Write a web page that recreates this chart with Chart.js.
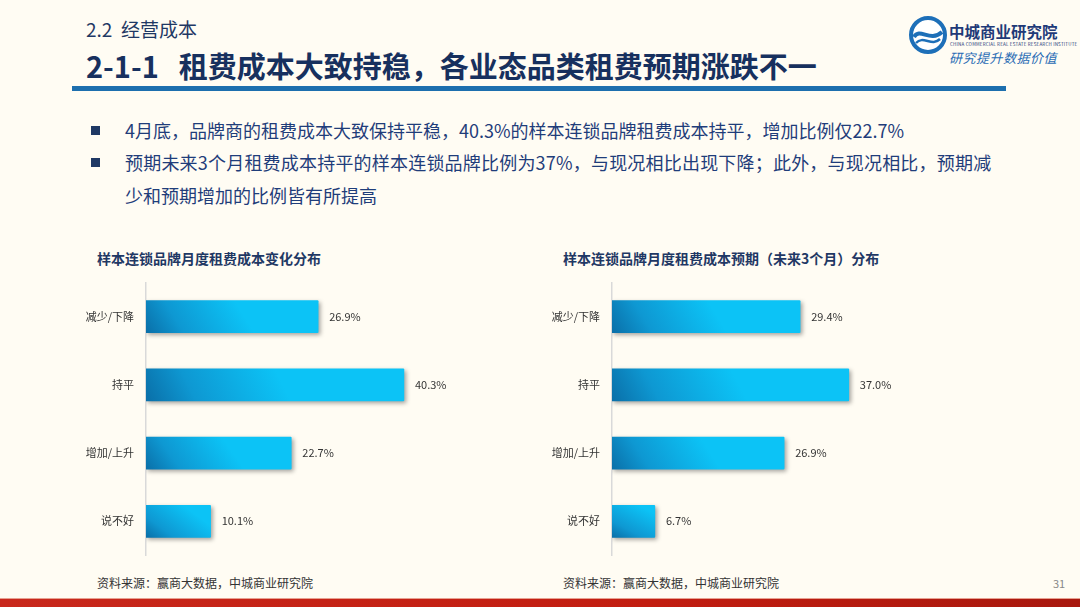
<!DOCTYPE html>
<html>
<head>
<meta charset="utf-8">
<script src="https://cdn.jsdelivr.net/npm/chart.js@4.4.1/dist/chart.umd.min.js"></script>
<style>
    html, body {
        margin: 0;
        padding: 0;
    }
    body {
        width: 1080px;
        height: 607px;
        position: relative;
        overflow: hidden;
        background: #fffcf3;
        font-family: "Noto Sans CJK SC", "Noto Sans", sans-serif;
    }
    .abs { position: absolute; white-space: nowrap; }
    .sub { left: 86px; top: 15px; font-size: 19px; color: #1f3864; }
    .title { left: 86px; top: 44px; font-size: 29px; font-weight: bold; color: #17305e; }
    .rule { left: 72px; top: 86px; width: 934px; height: 5px; background: #1d6fae; }
    .bullet { width: 9px; height: 9px; background: #1f3864; }
    .txt { font-size: 18px; color: #1f3d7a; }
    .ctitle { top: 248px; font-size: 14px; font-weight: bold; color: #1f3864; }
    .src { top: 574px; font-size: 12px; color: #333; }
    .page { left: 1053px; top: 575px; font-size: 11px; color: #888; }
    .redbar { left: 0; top: 598px; width: 1080px; height: 9px;
        background: linear-gradient(to right, #c8281c, #c21d10 60%, #a8180e); border-top: 1px solid #e8a090; }
    canvas { position: absolute; }
</style>
</head>
<body>
<div class="abs sub">2.2&nbsp; 经营成本</div>
<div class="abs title">2-1-1<span style="display:inline-block;width:20px;"></span>租费成本大致持稳，各业态品类租费预期涨跌不一</div>
<div class="abs rule"></div>

<!-- logo -->
<svg class="abs" style="left:908px;top:15px" width="40" height="40" viewBox="0 0 40 40">
    <circle cx="20" cy="20" r="17" fill="#fff" stroke="#1d6fb8" stroke-width="4"/>
    <path d="M6 22 C12 12, 22 28, 34 17" stroke="#1d6fb8" stroke-width="4" fill="none"/>
    <path d="M8 28 C15 20, 24 32, 32 24" stroke="#1d6fb8" stroke-width="2.5" fill="none"/>
</svg>
<div class="abs" style="left:949px;top:20px;font-size:15.5px;font-weight:bold;color:#1f3a78;">中城商业研究院</div>
<div class="abs" style="left:950px;top:41px;font-size:4.5px;color:#1f3a78;letter-spacing:0.2px;">CHINA COMMERCIAL REAL ESTATE RESEARCH INSTITUTE</div>
<div class="abs" style="left:949px;top:48px;font-size:13px;font-style:italic;color:#2a6cb5;letter-spacing:0.5px;">研究提升数据价值</div>

<!-- bullets -->
<div class="abs bullet" style="left:91px;top:126px;"></div>
<div class="abs txt" style="left:125px;top:117px;">4月底，品牌商的租费成本大致保持平稳，40.3%的样本连锁品牌租费成本持平，增加比例仅22.7%</div>
<div class="abs bullet" style="left:91px;top:158px;"></div>
<div class="abs txt" style="left:125px;top:149px;letter-spacing:0.2px;">预期未来3个月租费成本持平的样本连锁品牌比例为37%，与现况相比出现下降；此外，与现况相比，预期减</div>
<div class="abs txt" style="left:125px;top:182px;">少和预期增加的比例皆有所提高</div>

<div class="abs ctitle" style="left:97px;">样本连锁品牌月度租费成本变化分布</div>
<div class="abs ctitle" style="left:563px;">样本连锁品牌月度租费成本预期（未来3个月）分布</div>

<canvas id="leftChart" width="406" height="310" style="left:60px;top:264px;"></canvas>
<canvas id="rightChart" width="406" height="310" style="left:526px;top:264px;"></canvas>

<div class="abs src" style="left:97px;">资料来源：赢商大数据，中城商业研究院</div>
<div class="abs src" style="left:563px;">资料来源：赢商大数据，中城商业研究院</div>
<div class="abs page">31</div>
<div class="abs redbar"></div>

<script>
// 数据
const categories = ['减少/下降', '持平', '增加/上升', '说不好'];
const currentShares = [26.9, 40.3, 22.7, 10.1];   // 4月底现况
const expectedShares = [29.4, 37.0, 26.9, 6.7];   // 未来3个月预期

// 柱子渐变色（左下深蓝 -> 右上亮青）
function barGradient(context) {
    const chart = context.chart;
    if (!chart.chartArea) return '#0fa6e0';
    const xs = chart.scales.x;
    const ys = chart.scales.y;
    const v = context.raw;
    const x0 = xs.getPixelForValue(0);
    const x1 = xs.getPixelForValue(v);
    const yc = ys.getPixelForValue(context.dataIndex);
    const g = chart.ctx.createLinearGradient(x0, yc + 16, x0 + (x1 - x0) * 0.45, yc - 16 - (x1 - x0) * 0.1);
    g.addColorStop(0, '#0a6fa8');
    g.addColorStop(0.35, '#0e98d2');
    g.addColorStop(1, '#0cc3f6');
    return g;
}

// 阴影 + 数值标签
const barDecor = {
    id: 'barDecor',
    beforeDatasetsDraw(chart) {
        const ctx = chart.ctx;
        ctx.save();
        ctx.shadowColor = 'rgba(0, 0, 0, 0.35)';
        ctx.shadowBlur = 4;
        ctx.shadowOffsetX = 2;
        ctx.shadowOffsetY = 2;
    },
    afterDatasetsDraw(chart) {
        const ctx = chart.ctx;
        ctx.restore();
        ctx.save();
        ctx.font = '11px "Noto Sans CJK SC", sans-serif';
        ctx.fillStyle = '#333';
        ctx.textBaseline = 'middle';
        ctx.textAlign = 'left';
        const meta = chart.getDatasetMeta(0);
        meta.data.forEach((bar, i) => {
            const v = chart.data.datasets[0].data[i];
            ctx.fillText(v.toFixed(1) + '%', bar.x + 11, bar.y);
        });
        ctx.restore();
    }
};

function renderChart(canvasId, values) {
    const canvas = document.getElementById(canvasId);
    return new Chart(canvas, {
        type: 'bar',
        data: {
            labels: categories,
            datasets: [{
                data: values,
                backgroundColor: barGradient,
                borderWidth: 0,
                borderRadius: 1,
                borderSkipped: 'start',
                barThickness: 32
            }]
        },
        options: {
            indexAxis: 'y',
            responsive: false,
            animation: false,
            layout: { padding: 0 },
            plugins: {
                legend: { display: false },
                tooltip: { enabled: false }
            },
            scales: {
                x: {
                    display: false,
                    min: 0,
                    max: 50
                },
                y: {
                    grid: { display: false, drawTicks: false },
                    border: { display: true, color: '#d9d9d9', width: 1.5 },
                    ticks: {
                        color: '#333',
                        padding: 12,
                        font: { size: 11, family: '"Noto Sans CJK SC", sans-serif' }
                    },
                    afterFit: (axis) => { axis.width = 86; }
                }
            }
        },
        plugins: [barDecor]
    });
}

renderChart('leftChart', currentShares);
renderChart('rightChart', expectedShares);
</script>
</body>
</html>
